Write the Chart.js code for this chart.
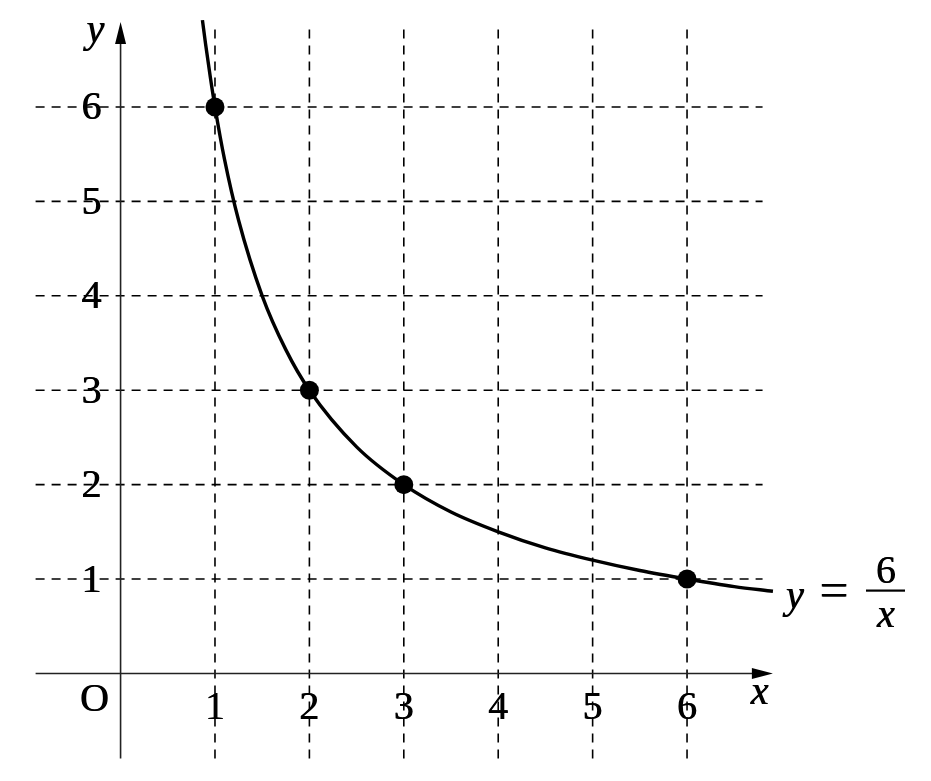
<!DOCTYPE html>
<html>
<head>
<meta charset="utf-8">
<script src="https://cdn.jsdelivr.net/npm/chart.js@4/dist/chart.umd.min.js"></script>
<style>
  html, body { margin: 0; padding: 0; background: #ffffff; }
  #wrap { width: 931px; height: 781px; }
</style>
</head>
<body>
<div id="wrap"><canvas id="c" width="931" height="781"></canvas></div>
<script>
// ---- data ----
const xTicks = [1, 2, 3, 4, 5, 6];
const yTicks = [1, 2, 3, 4, 5, 6];
const xTickLabels = ['1', '2', '3', '4', '5', '6'];
const yTickLabels = ['1', '2', '3', '4', '5', '6'];
const pointX = [1, 2, 3, 6];
const pointY = [6, 3, 2, 1];
const curveX = [0.867, 0.9, 0.95, 1, 1.1, 1.25, 1.5, 1.75, 2, 2.5, 3, 3.5, 4, 4.5, 5, 5.5, 6, 6.5, 6.91];
const curveY = [6.92, 6.67, 6.32, 6, 5.45, 4.8, 4, 3.43, 3, 2.4, 2, 1.71, 1.5, 1.33, 1.2, 1.09, 1, 0.92, 0.87];
const originLabel = 'O';
const xAxisLabel = 'x';
const yAxisLabel = 'y';
const formulaY = 'y';
const formulaEq = '=';
const formulaNum = '6';
const formulaDen = 'x';

const X_MIN = -0.9, X_MAX = 6.92, Y_MIN = -0.9, Y_MAX = 7.0;

const curveData = curveX.map((x, i) => ({ x: x, y: curveY[i] }));
const pointData = pointX.map((x, i) => ({ x: x, y: pointY[i] }));

const FONT = '36px "Liberation Serif"';
const IFONT = 'italic 36px "Liberation Serif"';
const TEXT_SCALE = 1.11;

// draws text slightly enlarged and thickened (two fills, small offset)
function txt(ctx, t, x, y, s) {
  const k = s || TEXT_SCALE;
  ctx.save();
  ctx.translate(x, y);
  ctx.scale(k, k);
  ctx.fillText(t, -0.3, 0);
  ctx.fillText(t, 0.3, 0);
  ctx.restore();
}

const axesPlugin = {
  id: 'mathAxes',
  beforeDatasetsDraw(chart) {
    const ctx = chart.ctx;
    const xs = chart.scales.x, ys = chart.scales.y;
    const x0 = xs.getPixelForValue(0), y0 = ys.getPixelForValue(0);
    const left = xs.getPixelForValue(X_MIN), right = xs.getPixelForValue(X_MAX);
    const bottom = ys.getPixelForValue(Y_MIN), top = ys.getPixelForValue(Y_MAX);
    ctx.save();
    // dashed grid
    ctx.strokeStyle = '#000';
    ctx.lineWidth = 1.6;
    ctx.setLineDash([9, 7]);
    yTicks.forEach(v => {
      const py = ys.getPixelForValue(v);
      ctx.beginPath();
      ctx.moveTo(left, py);
      ctx.lineTo(xs.getPixelForValue(6.8), py);
      ctx.stroke();
    });
    xTicks.forEach(v => {
      const px = xs.getPixelForValue(v);
      ctx.beginPath();
      ctx.moveTo(px, bottom);
      ctx.lineTo(px, ys.getPixelForValue(6.88));
      ctx.stroke();
    });
    ctx.setLineDash([]);
    // axes
    ctx.strokeStyle = '#222';
    ctx.lineWidth = 1.6;
    ctx.beginPath();
    ctx.moveTo(left, y0);
    ctx.lineTo(right - 10, y0);
    ctx.moveTo(x0, bottom);
    ctx.lineTo(x0, top + 18);
    ctx.stroke();
    // arrow heads
    ctx.fillStyle = '#000';
    ctx.beginPath();
    ctx.moveTo(right - 1, y0);
    ctx.lineTo(right - 22, y0 - 5.5);
    ctx.lineTo(right - 22, y0 + 5.5);
    ctx.closePath();
    ctx.fill();
    const tipY = ys.getPixelForValue(6.9);
    ctx.beginPath();
    ctx.moveTo(x0, tipY);
    ctx.lineTo(x0 - 5.5, tipY + 22);
    ctx.lineTo(x0 + 5.5, tipY + 22);
    ctx.closePath();
    ctx.fill();
    // tick labels
    ctx.fillStyle = '#000';
    ctx.font = FONT;
    ctx.textAlign = 'center';
    ctx.textBaseline = 'middle';
    xTicks.forEach((v, i) => {
      txt(ctx, xTickLabels[i], xs.getPixelForValue(v), y0 + 35);
    });
    ctx.textAlign = 'right';
    yTicks.forEach((v, i) => {
      txt(ctx, yTickLabels[i], x0 - 19, ys.getPixelForValue(v) + 2);
    });
    ctx.textAlign = 'center';
    txt(ctx, originLabel, x0 - 26, y0 + 27);
    ctx.font = IFONT;
    txt(ctx, xAxisLabel, xs.getPixelForValue(6.77), y0 + 20);
    txt(ctx, yAxisLabel, x0 - 25, ys.getPixelForValue(6.85) + 5);
    ctx.restore();
  },
  afterDraw(chart) {
    const ctx = chart.ctx;
    ctx.save();
    ctx.fillStyle = '#000';
    ctx.textBaseline = 'middle';
    ctx.textAlign = 'center';
    ctx.font = IFONT;
    txt(ctx, formulaY, 795, 597);
    ctx.font = FONT;
    txt(ctx, formulaEq, 834, 594, 1.42);
    txt(ctx, formulaNum, 886, 573);
    ctx.font = IFONT;
    txt(ctx, formulaDen, 886, 616);
    ctx.fillRect(866, 589.5, 39, 2.2);
    ctx.restore();
  }
};

new Chart(document.getElementById('c'), {
  type: 'scatter',
  data: {
    datasets: [
      {
        data: curveData,
        showLine: true,
        borderColor: '#000',
        borderWidth: 3.4,
        pointRadius: 0,
        cubicInterpolationMode: 'monotone',
        fill: false
      },
      {
        data: pointData,
        showLine: false,
        pointRadius: 9.5,
        pointBackgroundColor: '#000',
        pointBorderColor: '#000',
        pointBorderWidth: 0
      }
    ]
  },
  options: {
    responsive: false,
    animation: false,
    devicePixelRatio: 1,
    layout: { padding: { left: 35.6, right: 157.1, top: 12.6, bottom: 22.6 } },
    plugins: { legend: { display: false }, tooltip: { enabled: false } },
    scales: {
      x: { type: 'linear', min: X_MIN, max: X_MAX, display: false },
      y: { type: 'linear', min: Y_MIN, max: Y_MAX, display: false }
    },
    clip: false
  },
  plugins: [axesPlugin]
});
</script>
</body>
</html>
